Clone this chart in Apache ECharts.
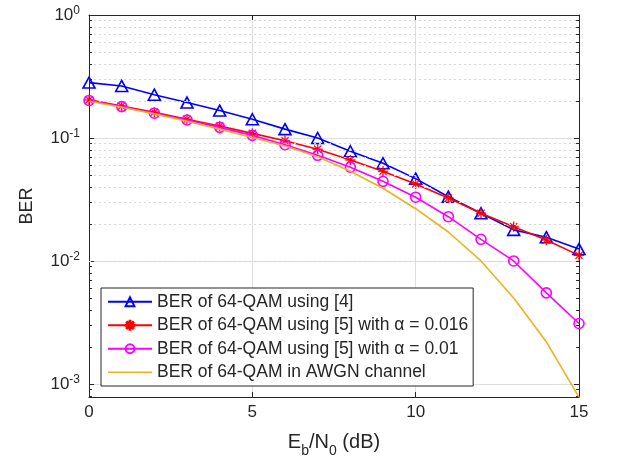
<!DOCTYPE html>
<html>
<head>
<meta charset="utf-8">
<script src="https://cdn.jsdelivr.net/npm/echarts@6/dist/echarts.min.js"></script>
<style>html,body{margin:0;padding:0;background:#fff;}#c{width:623px;height:469px;}</style>
</head>
<body>
<div id="c"></div>
<script>
const snr = [0, 1, 2, 3, 4, 5, 6, 7, 8, 9, 10, 11, 12, 13, 14, 15];
const berRef4 = [0.282, 0.265, 0.225, 0.194, 0.167, 0.142, 0.118, 0.100, 0.078, 0.0623, 0.0467, 0.0333, 0.0244, 0.0179, 0.0156, 0.0125];
const berRef5a016 = [0.204, 0.182, 0.162, 0.142, 0.125, 0.109, 0.095, 0.081, 0.0662, 0.0536, 0.0423, 0.0325, 0.0244, 0.0190, 0.0148, 0.0111];
const berRef5a01 = [0.202, 0.180, 0.159, 0.140, 0.122, 0.105, 0.0882, 0.0723, 0.0578, 0.0444, 0.0330, 0.0229, 0.0150, 0.0100, 0.0055, 0.0031];
const berAwgn = [0.199, 0.178, 0.157, 0.137, 0.118, 0.101, 0.086, 0.0705, 0.0536, 0.039, 0.0266, 0.0172, 0.0100, 0.0050, 0.0022, 0.00078];
const seriesNames = [
  'BER of 64-QAM using [4]',
  'BER of 64-QAM using [5] with \u03b1 = 0.016',
  'BER of 64-QAM using [5] with \u03b1 = 0.01',
  'BER of 64-QAM in AWGN channel'
];
const yMin = 0.000783, yMax = 1;

function pairs(arr) { return snr.map((x, i) => [x, arr[i]]); }

// minor log grid positions (2..9 x 10^k) inside the axis range
const minorVals = [];
for (let k = -4; k < 0; k++) {
  for (let m = 2; m <= 9; m++) {
    const v = m * Math.pow(10, k);
    if (v > yMin && v < yMax) minorVals.push(v);
  }
}
const minorGridLines = minorVals.map(v => ({ yAxis: v }));
const minorTicks = [];
minorVals.forEach(v => {
  minorTicks.push([{ coord: [0, v] }, { coord: [0.09, v] }]);
  minorTicks.push([{ coord: [15, v] }, { coord: [14.91, v] }]);
});

const asterisk = 'path://M9,0 L11,0 L11,20 L9,20 Z M0,9 L20,9 L20,11 L0,11 Z M3.6,2.2 L17.8,16.4 L16.4,17.8 L2.2,3.6 Z M16.4,2.2 L17.8,3.6 L3.6,17.8 L2.2,16.4 Z';
const lineIcon = 'path://M0,0 L44,0 L44,1.6 L0,1.6 Z';

const txt = '#262626';
const font = "'Liberation Sans', Arial, Helvetica, sans-serif";

const chart = echarts.init(document.getElementById('c'), null, { renderer: 'canvas' });
chart.setOption({
  animation: false,
  backgroundColor: '#ffffff',
  textStyle: { fontFamily: font },
  grid: { left: 89, right: 44, top: 15, bottom: 72, containLabel: false },
  xAxis: [{
    type: 'value', min: 0, max: 15, interval: 5,
    name: 'E{sub|b}/N{sub|0} (dB)', nameLocation: 'middle', nameGap: 29,
    nameTextStyle: {
      color: txt, fontSize: 20, fontFamily: font, lineHeight: 24,
      rich: { sub: { fontSize: 14, fontFamily: font, color: txt, verticalAlign: 'bottom', lineHeight: 32 } }
    },
    axisLine: { onZero: false, lineStyle: { color: txt, width: 1 } },
    axisTick: { inside: true, length: 5, lineStyle: { color: txt } },
    axisLabel: { color: txt, fontSize: 17, margin: 7, fontFamily: font },
    splitLine: { show: true, lineStyle: { color: '#dedede', width: 1 } }
  }, {
    type: 'value', min: 0, max: 15, interval: 5, position: 'top',
    axisLine: { onZero: false, lineStyle: { color: txt, width: 1 } },
    axisTick: { inside: true, length: 5, lineStyle: { color: txt } },
    axisLabel: { show: false }, splitLine: { show: false }
  }],
  yAxis: [{
    type: 'log', logBase: 10, min: yMin, max: yMax, splitNumber: 3,
    name: 'BER', nameLocation: 'middle', nameGap: 53,
    nameTextStyle: { color: txt, fontSize: 18, fontFamily: font },
    axisLine: { onZero: false, lineStyle: { color: txt, width: 1 } },
    axisTick: { inside: true, length: 5, lineStyle: { color: txt } },
    axisLabel: {
      color: txt, fontSize: 17, margin: 9, fontFamily: font, lineHeight: 20,
      formatter: function (v) {
        const l = Math.log10(v), e = Math.round(l);
        if (Math.abs(l - e) > 1e-6) return '';
        return '10{sup|' + e + '}';
      },
      rich: { sup: { fontSize: 12, fontFamily: font, color: txt, verticalAlign: 'top', lineHeight: 13 } }
    },
    splitLine: { show: true, lineStyle: { color: '#dedede', width: 1 } }
  }, {
    type: 'log', logBase: 10, min: yMin, max: yMax, splitNumber: 3, position: 'right',
    axisLine: { onZero: false, lineStyle: { color: txt, width: 1 } },
    axisTick: { inside: true, length: 5, lineStyle: { color: txt } },
    axisLabel: { show: false }, splitLine: { show: false }
  }],
  legend: {
    orient: 'vertical', left: 101, top: 288,
    data: [
      { name: seriesNames[0] },
      { name: seriesNames[1] },
      { name: seriesNames[2] },
      { name: seriesNames[3], icon: lineIcon }
    ],
    backgroundColor: '#ffffff', borderColor: txt, borderWidth: 1,
    padding: [4, 5, 4, 6], itemGap: 4, itemWidth: 44, itemHeight: 11,
    textStyle: { color: txt, fontSize: 17.5, fontFamily: font, lineHeight: 19.5 }
  },
  series: [{
    name: 'grid', type: 'line', data: [], silent: true, z: 1,
    markLine: {
      silent: true, symbol: ['none', 'none'], label: { show: false },
      lineStyle: { color: '#d6d6d6', type: [2, 3], width: 1 },
      data: minorGridLines, animation: false
    }
  }, {
    name: 'ticks', type: 'line', data: [], silent: true, z: 1,
    markLine: {
      silent: true, symbol: ['none', 'none'], label: { show: false },
      lineStyle: { color: txt, type: 'solid', width: 1 },
      data: minorTicks, animation: false
    }
  }, {
    name: seriesNames[0], type: 'line', data: pairs(berRef4), z: 3,
    symbol: 'triangle', symbolSize: [12, 11],
    lineStyle: { color: '#0000ff', width: 1.6 },
    itemStyle: { color: 'rgba(255,255,255,0)', borderColor: '#0000ff', borderWidth: 1.6 }
  }, {
    name: seriesNames[1], type: 'line', data: pairs(berRef5a016), z: 4,
    symbol: asterisk, symbolSize: 10,
    lineStyle: { color: '#ff0000', width: 1.6 },
    itemStyle: { color: '#ff0000', borderColor: '#ff0000', borderWidth: 0.3 }
  }, {
    name: seriesNames[2], type: 'line', data: pairs(berRef5a01), z: 5,
    symbol: 'circle', symbolSize: 10,
    lineStyle: { color: '#ff00ff', width: 1.6 },
    itemStyle: { color: 'rgba(255,255,255,0)', borderColor: '#ff00ff', borderWidth: 1.6 }
  }, {
    name: seriesNames[3], type: 'line', data: pairs(berAwgn), z: 6,
    symbol: 'none', showSymbol: false,
    lineStyle: { color: '#edb120', width: 1.6 },
    itemStyle: { color: '#edb120' }
  }]
});
</script>
</body>
</html>
